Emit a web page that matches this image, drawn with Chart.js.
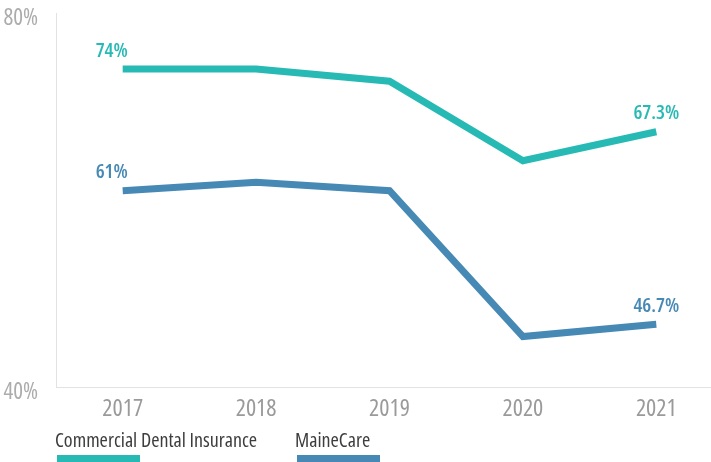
<!DOCTYPE html>
<html lang="en">
<head>
<meta charset="UTF-8">
<title>Dental coverage</title>
<style>
  html, body { margin: 0; padding: 0; background: #fff; overflow: hidden; }
  #wrap { width: 711px; height: 462px; }
</style>
</head>
<body>
<div id="wrap"><canvas id="chart" width="711" height="462"></canvas></div>
<script src="https://cdn.jsdelivr.net/npm/chart.js"></script>
<script>
const years = [2017, 2018, 2019, 2020, 2021];
const commercial = [74, 74, 72.7, 64.2, 67.3];
const maineCare = [61, 61.9, 61, 45.4, 46.7];
const yTicks = [40, 80];
const seriesNames = ['Commercial Dental Insurance', 'MaineCare'];

const teal = '#27bab5';
const blue = '#4689b5';
const FONT = "'Open Sans', sans-serif";

function pts(vals) {
    return vals.map((v, i) => ({ x: years[i], y: v }));
}

// end labels: first and last point only
const endLabels = {
    id: 'endLabels',
    afterDatasetsDraw(chart) {
        const ctx = chart.ctx;
        ctx.save();
        ctx.font = 'condensed 600 20px ' + FONT;
        ctx.textAlign = 'center';
        ctx.textBaseline = 'middle';
        chart.data.datasets.forEach((ds, di) => {
            const meta = chart.getDatasetMeta(di);
            const n = ds.data.length;
            [0, n - 1].forEach(i => {
                const p = meta.data[i];
                const dx = i === 0 ? -11 : 0;
                ctx.fillStyle = ds.borderColor;
                ctx.fillText(ds.data[i].y + '%', p.x + dx, p.y - 18);
            });
        });
        ctx.restore();
    }
};

// legend: name above a coloured bar
const bottomLegend = {
    id: 'bottomLegend',
    afterDraw(chart) {
        const ctx = chart.ctx;
        const spots = [55, 295];
        ctx.save();
        ctx.font = 'condensed 20px ' + FONT;
        ctx.textAlign = 'left';
        ctx.textBaseline = 'alphabetic';
        chart.data.datasets.forEach((ds, di) => {
            const x = spots[di];
            ctx.fillStyle = '#3d3d3d';
            ctx.fillText(ds.label, x, 447);
            ctx.fillStyle = ds.borderColor;
            ctx.fillRect(x + 2, 455, 83, 8);
        });
        ctx.restore();
    }
};

new Chart(document.getElementById('chart'), {
    type: 'line',
    data: {
        datasets: [
            { label: seriesNames[0], data: pts(commercial), borderColor: teal, borderWidth: 7 },
            { label: seriesNames[1], data: pts(maineCare), borderColor: blue, borderWidth: 7 }
        ]
    },
    options: {
        responsive: false,
        animation: false,
        layout: { padding: { top: 13, right: 0, left: 0, bottom: 0 } },
        elements: { point: { radius: 0 }, line: { tension: 0, borderCapStyle: 'butt' } },
        plugins: { legend: { display: false }, tooltip: { enabled: false } },
        scales: {
            x: {
                type: 'linear',
                min: 2016.5,
                max: 2021.41,
                grid: { display: false },
                border: { display: true, color: '#e2e2e2', width: 1 },
                afterBuildTicks: s => { s.ticks = years.map(v => ({ value: v })); },
                afterFit: s => { s.height = 75; s.paddingLeft = 0; s.paddingRight = 0; },
                ticks: {
                    color: '#9a9a9a',
                    font: { family: FONT, size: 24, weight: 'condensed' },
                    padding: 0,
                    maxRotation: 0,
                    callback: v => String(v)
                }
            },
            y: {
                min: 40,
                max: 80,
                grid: { display: false },
                border: { display: true, color: '#e2e2e2', width: 1 },
                afterBuildTicks: s => { s.ticks = yTicks.map(v => ({ value: v })); },
                afterFit: s => { s.width = 56; s.paddingTop = 0; s.paddingBottom = 0; },
                ticks: {
                    color: '#acacac',
                    font: { family: FONT, size: 23, weight: 'condensed' },
                    padding: 10,
                    labelOffset: 5,
                    callback: v => v + '%'
                }
            }
        }
    },
    plugins: [endLabels, bottomLegend]
});
</script>
</body>
</html>
